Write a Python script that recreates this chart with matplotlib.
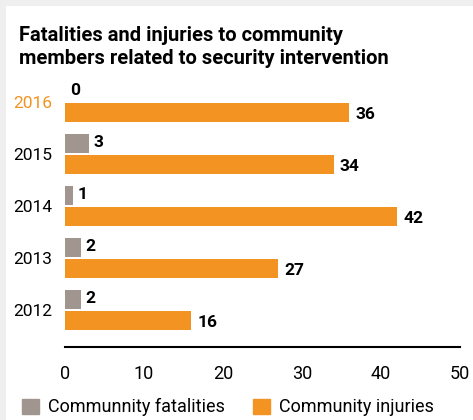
import matplotlib.pyplot as plt
from matplotlib.patches import Rectangle, Patch
from matplotlib import font_manager

years = ["2012", "2013", "2014", "2015", "2016"]
fatalities = [2, 2, 1, 3, 0]
injuries = [16, 27, 42, 34, 36]
ticks = [0, 10, 20, 30, 40, 50]

names = {f.name for f in font_manager.fontManager.ttflist}
fam = "Liberation Sans Narrow" if "Liberation Sans Narrow" in names else "Roboto"
plt.rcParams['font.family'] = [fam, 'DejaVu Sans']

grey = "#a0958f"
orange = "#f39322"
W, H = 473, 420

fig = plt.figure(figsize=(W / 100, H / 100), dpi=100, facecolor="#efefef")
fig.patches.append(Rectangle((6 / W, 0), 1, 1 - 6 / H, transform=fig.transFigure,
                             facecolor="white", edgecolor="none", zorder=-1))

left, right, top, bottom = 65, 460, 70, 347
ax = fig.add_axes([left / W, 1 - bottom / H, (right - left) / W, (bottom - top) / H])
ax.set_facecolor("none")

y = list(range(len(years)))
h = 0.365
ax.barh([v + 0.2 for v in y], fatalities, height=h, color=grey)
ax.barh([v - 0.2 for v in y], injuries, height=h, color=orange)

for i in y:
    ax.text(fatalities[i] + 0.6, i + 0.22, str(fatalities[i]), va="center", ha="left",
            fontsize=12.5, fontweight="bold")
    ax.text(injuries[i] + 0.8, i - 0.24, str(injuries[i]), va="center", ha="left",
            fontsize=12.5, fontweight="bold")

ax.set_xlim(0, 50)
ax.set_ylim(-37 / 52, 4 + 32 / 52)
ax.set_xticks(ticks)
ax.set_xticklabels([str(t) for t in ticks], fontsize=13)
ax.set_yticks(y)
ax.set_yticklabels(years, fontsize=12.5)
for lbl, yr in zip(ax.get_yticklabels(), years):
    if yr == "2016":
        lbl.set_color(orange)
ax.tick_params(axis="both", length=0)
ax.tick_params(axis="x", pad=13)
ax.tick_params(axis="y", pad=9)
for s in ["top", "right", "left"]:
    ax.spines[s].set_visible(False)
ax.spines["bottom"].set_linewidth(1.5)

fig.text(19 / W, 1 - 26 / H, "Fatalities and injuries to community\nmembers related to security intervention",
         ha="left", va="top", fontsize=14.5, fontweight="bold", linespacing=1.25)

handles = [Patch(color=grey, label="Communnity fatalities"),
           Patch(color=orange, label="Community injuries")]
fig.legend(handles=handles, loc="lower left", bbox_to_anchor=(6 / W, -0.03), ncol=2,
           frameon=False, fontsize=13, handlelength=0.9, handleheight=0.9,
           handletextpad=0.5, columnspacing=1.6)

fig.savefig("out.png", dpi=100, facecolor=fig.get_facecolor())
